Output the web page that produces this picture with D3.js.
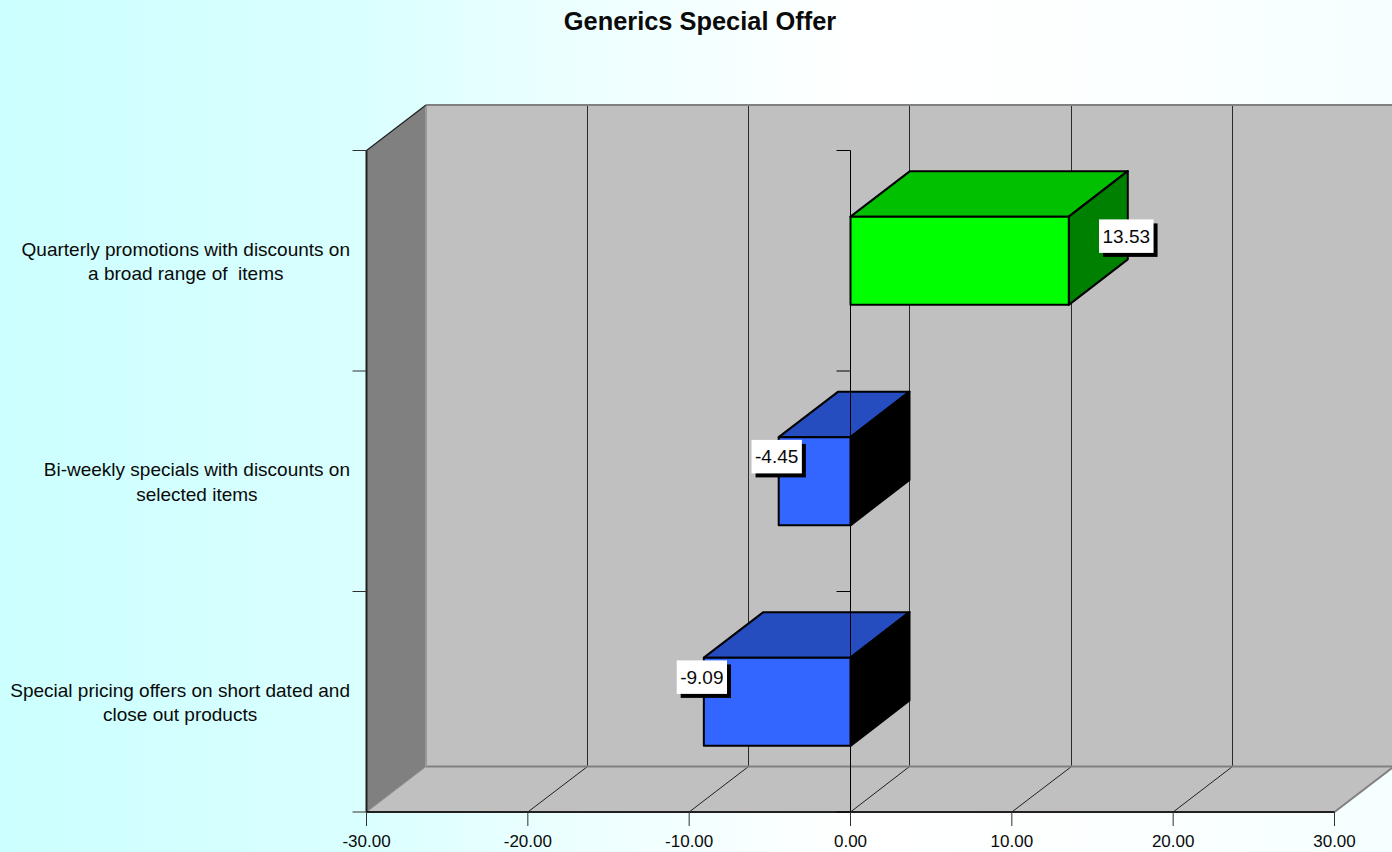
<!DOCTYPE html>
<html><head><meta charset="utf-8">
<style>html,body{margin:0;padding:0;overflow:hidden;background:#fff}svg{display:block}text{font-family:"Liberation Sans",Arial,sans-serif;fill:#0a0a0a}</style>
<script src="https://cdn.jsdelivr.net/npm/d3@7"></script></head><body>
<svg id="c" width="1392" height="852"></svg>
<script>
const title = "Generics Special Offer";
const categories = [
  ["Quarterly promotions with discounts on", "a broad range of  items"],
  ["Bi-weekly specials with discounts on", "selected items"],
  ["Special pricing offers on short dated and", "close out products"]
];
const values = [13.53, -4.45, -9.09];
const valueLabels = ["13.53", "-4.45", "-9.09"];
const xTicks = [-30, -20, -10, 0, 10, 20, 30];

const W = 1392, H = 852;
const x = d3.scaleLinear().domain([-30, 30]).range([366.5, 1334.5]);
const y = d3.scaleBand().domain(d3.range(categories.length)).range([150.5, 812]);
const dx = 59.5, dy = -45.5;
const barFrac = 0.4;
const svg = d3.select("#c");
const defs = svg.append("defs");
const g = defs.append("linearGradient").attr("id", "bg").attr("gradientUnits", "userSpaceOnUse")
  .attr("x1", 0).attr("y1", 0).attr("x2", W).attr("y2", 0);
[[0, "#ccffff"], [0.26, "#dafFff"], [0.4, "#ebffff"], [0.62, "#ffffff"], [0.8, "#fcffff"], [1, "#f5ffff"]]
  .forEach(([o, c]) => g.append("stop").attr("offset", o).attr("stop-color", c));
svg.append("rect").attr("width", W).attr("height", H).attr("fill", "url(#bg)");

const line = (x1, y1, x2, y2, c, w) => svg.append("line").attr("x1", x1).attr("y1", y1).attr("x2", x2).attr("y2", y2).attr("stroke", c).attr("stroke-width", w);
const poly = (pts, f, s, w) => svg.append("polygon").attr("points", pts.map(p => p.join(",")).join(" ")).attr("fill", f)
  .attr("stroke", s || "none").attr("stroke-width", w || 0).attr("stroke-linejoin", "round");

const [x0, x1] = x.range();
const [yT, yB] = y.range();
poly([[x0 + dx, yT + dy], [x1 + dx, yT + dy], [x1 + dx, yB + dy], [x0 + dx, yB + dy]], "#c0c0c0");
poly([[x0, yB], [x1, yB], [x1 + dx, yB + dy], [x0 + dx, yB + dy]], "#c0c0c0");
poly([[x0, yT], [x0 + dx, yT + dy], [x0 + dx, yB + dy], [x0, yB]], "#808080");
xTicks.slice(1).forEach(t => {
  const gx = Math.round(x(t) + dx - 0.7) + 0.5;
  line(gx, yT + dy, gx, yB + dy, "#2a2a2a", 1);
  if (t < 30) line(x(t), yB, gx, yB + dy, "#202020", 1);
});
line(x0 + dx, yT + dy, x1 + dx, yT + dy, "#808080", 2);
line(x0 + dx, yB + dy, x1 + dx, yB + dy, "#808080", 2);
line(x0 + dx, yT + dy, x0 + dx, yB + dy, "#999999", 2);
line(x0, yB, x0 + dx, yB + dy, "#8c8c8c", 1);
line(x1, yB, x1 + dx, yB + dy, "#808080", 2);
line(x0, yT, x0 + dx, yT + dy, "#202020", 1.2);
const step = y.step();
const barH = step * barFrac;
values.forEach((v, i) => {
  const cy = y(i) + step / 2, t = cy - barH / 2, b = cy + barH / 2;
  const a = x(Math.min(v, 0)), e = x(Math.max(v, 0));
  const pos = v >= 0;
  const front = pos ? "#00ff00" : "#3366ff", top = pos ? "#00c000" : "#264dbf", side = pos ? "#008000" : "#000000";
  poly([[a, t], [e, t], [e + dx - 0.5, t + dy], [a + dx, t + dy]], top, "#000", 2);
  poly([[e, t], [e + dx - 0.5, t + dy], [e + dx - 0.5, b + dy], [e, b]], side, "#000", 2);
  poly([[a, t], [e, t], [e, b], [a, b]], front, "#000", 2);
});
line(x0, yT, x0, yB, "#202020", 2);
line(x0, yB, x1, yB, "#202020", 2);
line(x(0), yT, x(0), yB, "#000", 1);
y.domain().concat([categories.length]).forEach(i => {
  const p = i < categories.length ? y(i) : yB;
  line(x0 - 14, p, x0, p, "#303030", 1);
  line(x(0) - 14, p, x(0), p, "#000", 1);
});
xTicks.forEach(t => {
  line(x(t), yB, x(t), yB + 14, "#303030", 1);
  svg.append("text").attr("x", x(t)).attr("y", 847).attr("text-anchor", "middle").attr("font-size", 17).text(d3.format(".2f")(t).replace("\u2212", "-"));
});
categories.forEach((lines, i) => {
  const cy = y(i) + step / 2;
  const tx = svg.append("g");
  const ts = lines.map((l, k) => tx.append("text").style("white-space", "pre").attr("y", cy - 5.2 + 24.7 * k).attr("font-size", 19).text(l));
  const maxW = d3.max(ts, s => s.node().getComputedTextLength());
  ts.forEach(s => s.attr("x", 350 - maxW / 2).attr("text-anchor", "middle"));
});
values.forEach((v, i) => {
  const cy = y(i) + step / 2, t = cy - barH / 2;
  const lx = v >= 0 ? x(v) + dx - 2 : x(v) - 2, ly = t + 19.5;
  const tt = svg.append("text").attr("x", lx).attr("y", ly + 6.5).attr("text-anchor", "middle").attr("font-size", 19).text(valueLabels[i]);
  const w = tt.node().getComputedTextLength() + 7, h = 33.5;
  tt.remove();
  svg.append("rect").attr("x", lx - w / 2 + 4).attr("y", ly - h / 2 + 4).attr("width", w).attr("height", h).attr("fill", "#000");
  svg.append("rect").attr("x", lx - w / 2).attr("y", ly - h / 2).attr("width", w).attr("height", h).attr("fill", "#fff");
  svg.append("text").attr("x", lx).attr("y", ly + 6.5).attr("text-anchor", "middle").attr("font-size", 19).text(valueLabels[i]);
});
svg.append("text").attr("x", 700).attr("y", 30).attr("text-anchor", "middle").attr("font-size", 25.4).attr("font-weight", "bold").text(title);
</script></body></html>
